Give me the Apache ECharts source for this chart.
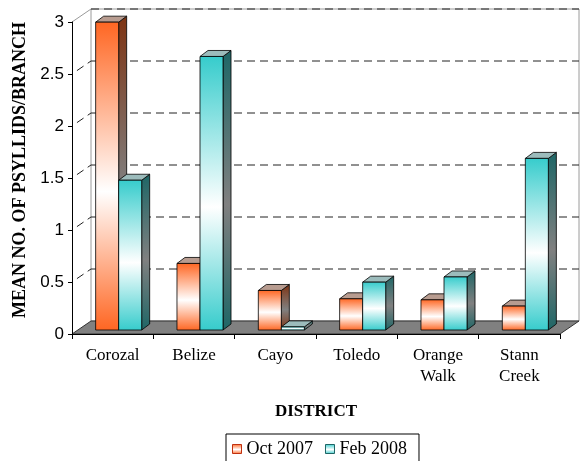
<!DOCTYPE html>
<html>
<head>
<meta charset="utf-8">
<script src="https://cdn.jsdelivr.net/npm/echarts@6/dist/echarts.min.js"></script>
<style>html,body{margin:0;padding:0;background:#fff;}#c{width:580px;height:461px;}</style>
</head>
<body>
<div id="c"></div>
<script>
// ---- data ----
const categories = ['Corozal', 'Belize', 'Cayo', 'Toledo', 'Orange\nWalk', 'Stann\nCreek'];
const seriesNames = ['Oct 2007', 'Feb 2008'];
const oct2007 = [2.96, 0.64, 0.38, 0.30, 0.29, 0.23];
const feb2008 = [1.44, 2.63, 0.03, 0.46, 0.51, 1.65];
const yTicks = [0, 0.5, 1, 1.5, 2, 2.5, 3];

// ---- styles (3D look) ----
const WALL_DX = 19, WALL_DY = -13;   // back wall offset
const BAR_DX = 6, BAR_DY = -4;       // bar row offset into depth
const DEP_DX = 8, DEP_DY = -6;       // bar depth
const BAR_FRAC = 0.283;              // bar width as fraction of band
const ORANGE = '#FF6622', TEAL = '#36CCCC';
const ORANGE_D = '#7E3312', TEAL_D = '#1E6666';
const SERIF = '"Liberation Serif", "Times New Roman", serif';
const SANS = '"Liberation Sans", Arial, sans-serif';

function grad(c, mid) {
  return new echarts.graphic.LinearGradient(0, 0, 0, 1, [
    { offset: 0, color: c }, { offset: 0.55, color: mid }, { offset: 1, color: c }
  ]);
}

function frameRender(params, api) {
  const cs = params.coordSys;
  const xL = cs.x, xR = cs.x + cs.width;
  const y0 = api.coord([0, 0])[1];
  const yTop = api.coord([0, yTicks[yTicks.length - 1]])[1];
  const ch = [];
  // back wall (white)
  ch.push({ type: 'polygon', shape: { points: [[xL + WALL_DX, yTop + WALL_DY], [xR + WALL_DX, yTop + WALL_DY], [xR + WALL_DX, y0 + WALL_DY], [xL + WALL_DX, y0 + WALL_DY]] },
    style: { fill: '#fff', stroke: '#9a9a9a', lineWidth: 1 } });
  // side wall top edge
  ch.push({ type: 'line', shape: { x1: xL, y1: yTop, x2: xL + WALL_DX, y2: yTop + WALL_DY }, style: { stroke: '#9a9a9a', lineWidth: 1 } });
  // gridlines
  yTicks.forEach(function (t) {
    if (t === 0) return;
    const y = api.coord([0, t])[1];
    ch.push({ type: 'line', shape: { x1: xL + WALL_DX, y1: y + WALL_DY, x2: xR + WALL_DX, y2: y + WALL_DY },
      style: { stroke: '#222', lineWidth: 1, lineDash: [8, 5] } });
    if (t !== yTicks[yTicks.length - 1]) {
      ch.push({ type: 'line', shape: { x1: xL, y1: y, x2: xL + WALL_DX, y2: y + WALL_DY },
        style: { stroke: '#222', lineWidth: 1, lineDash: [8, 5], lineDashOffset: -6 } });
    }
  });
  // floor
  ch.push({ type: 'polygon', shape: { points: [[xL, y0], [xR, y0], [xR + WALL_DX, y0 + WALL_DY], [xL + WALL_DX, y0 + WALL_DY]] },
    style: { fill: '#808080', stroke: '#333', lineWidth: 1 } });
  return { type: 'group', children: ch };
}

function barRender(si, face, dark, topc) {
  return function (params, api) {
    const ci = api.value(0), v = api.value(1);
    const base = api.coord([ci, 0]);
    const top = api.coord([ci, v]);
    const band = api.size([1, 0])[0];
    const bw = band * BAR_FRAC;
    const x0 = base[0] + BAR_DX + (si === 0 ? -bw : 0);
    const yb = base[1] + BAR_DY, yt = top[1] + BAR_DY;
    const x1 = x0 + bw;
    const st = { stroke: '#000', lineWidth: 0.8 };
    return { type: 'group', children: [
      { type: 'polygon', shape: { points: [[x1, yt], [x1 + DEP_DX, yt + DEP_DY], [x1 + DEP_DX, yb + DEP_DY], [x1, yb]] },
        style: Object.assign({ fill: grad(dark, '#808080') }, st) },
      { type: 'polygon', shape: { points: [[x0, yt], [x0 + DEP_DX, yt + DEP_DY], [x1 + DEP_DX, yt + DEP_DY], [x1, yt]] },
        style: Object.assign({ fill: topc }, st) },
      { type: 'rect', shape: { x: x0, y: yt, width: bw, height: Math.max(yb - yt, 0.5) },
        style: Object.assign({ fill: grad(face, '#ffffff') }, st) }
    ] };
  };
}

const chart = echarts.init(document.getElementById('c'), null, { renderer: 'canvas' });
chart.setOption({
  animation: false,
  backgroundColor: '#fff',
  grid: { left: 72, right: 20, top: 22, bottom: 127 },
  legend: {
    left: 226, top: 434,
    itemWidth: 9, itemHeight: 9, itemGap: 12,
    padding: [6, 12, 12, 6],
    borderColor: '#000', borderWidth: 1,
    textStyle: { fontFamily: SERIF, fontSize: 18, color: '#000' },
    data: [
      { name: seriesNames[0], icon: 'rect', itemStyle: { color: grad(ORANGE, '#fff'), borderColor: '#c03010', borderWidth: 1 } },
      { name: seriesNames[1], icon: 'rect', itemStyle: { color: grad(TEAL, '#fff'), borderColor: '#1E6666', borderWidth: 1 } }
    ]
  },
  xAxis: {
    type: 'category', data: categories, z: 5,
    name: 'DISTRICT', nameLocation: 'middle', nameGap: 69,
    nameTextStyle: { fontFamily: SERIF, fontSize: 17, fontWeight: 'bold', color: '#000' },
    axisLine: { lineStyle: { color: '#000', width: 1 } },
    axisTick: { show: true, length: 5, interval: 0, lineStyle: { color: '#000' } },
    axisLabel: { interval: 0, margin: 11, fontFamily: SERIF, fontSize: 17, color: '#000', lineHeight: 21 },
    splitLine: { show: false }
  },
  yAxis: {
    type: 'value', min: 0, max: 3, interval: 0.5, z: 5,
    name: 'MEAN NO. OF PSYLLIDS/BRANCH', nameLocation: 'middle', nameRotate: 90, nameGap: 42,
    nameTextStyle: { fontFamily: SERIF, fontSize: 18, fontWeight: 'bold', color: '#000', padding: [0, 0, 0, 16] },
    axisLine: { show: true, lineStyle: { color: '#000', width: 1 } },
    axisTick: { show: true, length: 4, lineStyle: { color: '#000' } },
    axisLabel: { margin: 8, fontFamily: SANS, fontSize: 17, color: '#000' },
    splitLine: { show: false }
  },
  series: [
    { type: 'custom', name: '_frame', z: 1, silent: true, renderItem: frameRender, data: [[0, 0]], encode: { x: 0, y: 1 } },
    { type: 'custom', name: seriesNames[0], z: 2, renderItem: barRender(0, ORANGE, ORANGE_D, '#b89c90'),
      data: oct2007.map(function (v, i) { return [i, v]; }), encode: { x: 0, y: 1 }, itemStyle: { color: ORANGE } },
    { type: 'custom', name: seriesNames[1], z: 2, renderItem: barRender(1, TEAL, TEAL_D, '#9cbcbc'),
      data: feb2008.map(function (v, i) { return [i, v]; }), encode: { x: 0, y: 1 }, itemStyle: { color: TEAL } }
  ]
});
</script>
</body>
</html>
